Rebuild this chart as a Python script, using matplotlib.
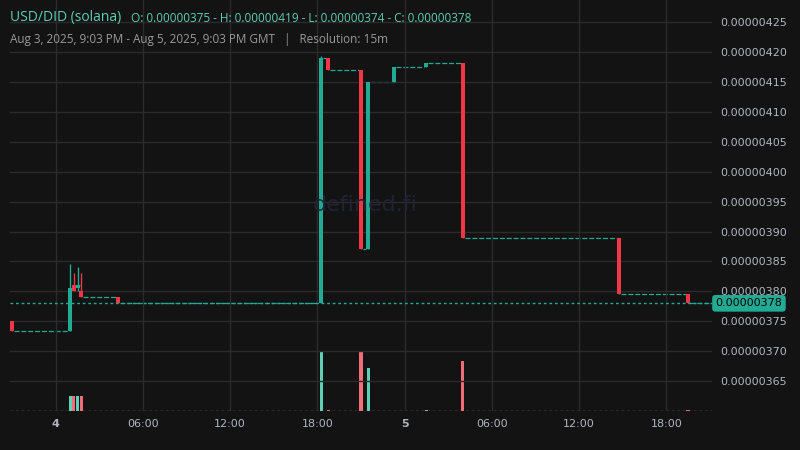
import numpy as np
import matplotlib.pyplot as plt
from matplotlib.ticker import FixedLocator

# candles that move (hours from Aug 4 00:00 GMT, 15m bars); price flat in between
times = [-3.0, 1.0, 1.25, 1.5, 1.75, 4.25, 18.25, 18.75, 21.0, 21.5, 23.25, 25.5, 28.0, 38.75, 43.5]
opens = [3.750, 3.733, 3.810, 3.805, 3.800, 3.790, 3.780, 4.190, 4.170, 3.870, 4.150, 4.175, 4.182, 3.890, 3.795]
highs = [3.750, 3.845, 3.830, 3.840, 3.830, 3.790, 4.193, 4.190, 4.170, 4.150, 4.175, 4.182, 4.182, 3.890, 3.795]
lows = [3.733, 3.733, 3.800, 3.800, 3.790, 3.780, 3.780, 4.170, 3.870, 3.870, 4.150, 4.175, 3.890, 3.795, 3.780]
closes = [3.733, 3.805, 3.800, 3.810, 3.790, 3.780, 4.190, 4.170, 3.870, 4.150, 4.175, 4.182, 3.890, 3.795, 3.780]
volumes = [0.3, 15, 15, 15, 15, 0.5, 59, 1, 59, 43, 0.5, 1, 50, 0.5, 1]

x_start, x_end = -3.15, 45.15
last_price = 3.78
xtick_pos = [0, 6, 12, 18, 24, 30, 36, 42]
xtick_lab = ['4', '06:00', '12:00', '18:00', '5', '06:00', '12:00', '18:00']
ytick_vals = np.arange(3.65, 4.26, 0.05)

UP, DOWN = '#22ab94', '#f23645'
BG = '#131313'
GRID = '#2b2b2b'
TXT = '#b2b5be'

fig = plt.figure(figsize=(8, 4.5), dpi=100, facecolor=BG)
ax = fig.add_axes([10/800, 39/450, 702/800, 411/450])
ax.set_facecolor(BG)
sc = 1e-6
w = 0.28

# volume overlay (drawn first so price axis stays on the right)
vax = ax.twinx()
vax.set_ylim(0, 411)
for t, o, c, v in zip(times, opens, closes, volumes):
    col = '#5ed1b4' if c >= o else '#f26d78'
    vax.bar(t, v, width=w * 0.75, color=col)
vax.axhline(0.5, color='#888888', lw=1, ls=(0, (2, 2)))
vax.set_yticks([])
for s in vax.spines.values():
    s.set_visible(False)

# flat dashes between moving candles
for i in range(len(times) - 1):
    vax.hlines((closes[i] - 3.60) / 0.687 * 411, times[i] + 0.14, times[i + 1] - 0.14,
               color=UP, lw=0.9, linestyles=(0, (4, 1.5)))
vax.hlines((closes[-1] - 3.60) / 0.687 * 411, times[-1] + 0.14, x_end,
           color=UP, lw=0.9, linestyles=(0, (4, 1.5)))

for t, o, h, l, c in zip(times, opens, highs, lows, closes):
    col = UP if c >= o else DOWN
    ax.vlines(t, l * sc, h * sc, color=col, lw=1)
    ax.bar(t, max(abs(c - o), 0.004) * sc, bottom=min(o, c) * sc, width=w, color=col)

ax.axhline(last_price * sc, color=UP, lw=1, ls=(0, (2, 2)))

ax.set_xlim(x_start, x_end)
vax.set_xlim(x_start, x_end)
ax.set_ylim(3.60 * sc, 4.287 * sc)
ax.xaxis.set_major_locator(FixedLocator(xtick_pos))
ax.set_xticklabels(xtick_lab)
for lbl, txt in zip(ax.get_xticklabels(), xtick_lab):
    if txt in ('4', '5'):
        lbl.set_fontweight('bold')
ax.yaxis.tick_right()
ax.yaxis.set_label_position('right')
ax.set_yticks(ytick_vals * sc)
ax.set_yticklabels(['%.8f' % (v * sc) for v in ytick_vals])
ax.tick_params(colors=TXT, labelsize=8, length=0, pad=6)
ax.tick_params(axis='y', labelleft=False, labelright=True)
ax.grid(True, color=GRID, lw=1)
ax.set_axisbelow(True)
for s in ax.spines.values():
    s.set_visible(False)
ax.set_zorder(vax.get_zorder() + 1)
ax.patch.set_visible(False)
fig.patch.set_facecolor(BG)

# last price label
ax.text(1.005, (last_price - 3.60) / 0.687, '%.8f' % (last_price * sc),
        transform=ax.transAxes, ha='left', va='center', fontsize=8, color='black',
        bbox=dict(boxstyle='round,pad=0.3', fc=UP, ec='none'))

fig.text(365/800, 1 - 205/450, 'defined.fi', color='#1f2333', fontsize=16, ha='center', va='center')
fig.text(10/800, 1 - 18/450, 'USD/DID (solana)', color='#5ccfb0', fontsize=10, va='center', family='Open Sans')
fig.text(131/800, 1 - 18/450, 'O: 0.00000375 - H: 0.00000419 - L: 0.00000374 - C: 0.00000378',
         color='#5ccfb0', fontsize=8.5, va='center', family='Open Sans')
fig.text(10/800, 1 - 40/450, 'Aug 3, 2025, 9:03 PM - Aug 5, 2025, 9:03 PM GMT   |   Resolution: 15m',
         color='#9a9a9a', fontsize=8.5, va='center', family='Open Sans')

fig.savefig('out.png', dpi=100, facecolor=BG)
